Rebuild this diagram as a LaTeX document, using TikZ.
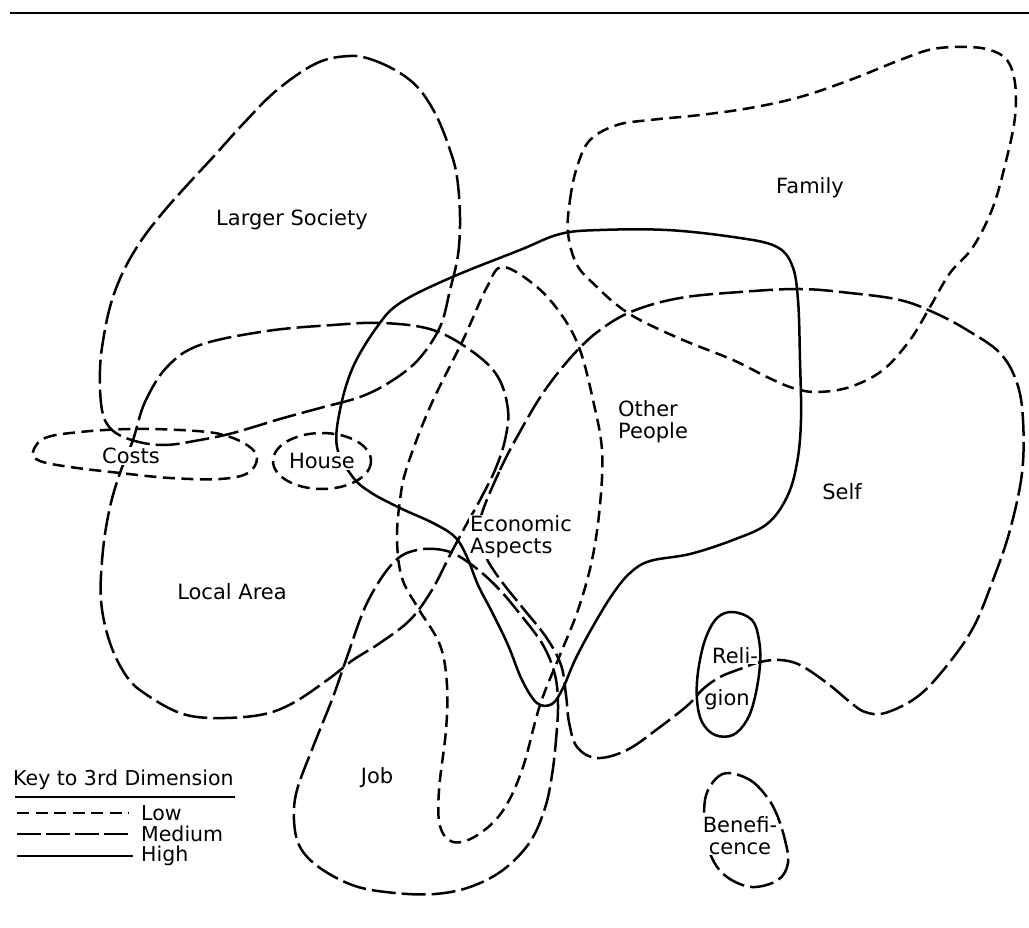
\documentclass[tikz,border=0pt]{standalone}
\usepackage{fontspec}
\setmainfont{DejaVu Sans}
\begin{document}
\begin{tikzpicture}[x=1pt,y=-1pt,
  low/.style={line width=2.5pt, dash pattern=on 12pt off 6.5pt},
  med/.style={line width=2.5pt, dash pattern=on 24pt off 6pt},
  high/.style={line width=2.5pt},
  lbl/.style={font=\fontsize{21}{22}\selectfont, fill=white, inner sep=1pt},
  plain/.style={font=\fontsize{20.5}{22}\selectfont, inner sep=1pt}]
\useasboundingbox (0,0) rectangle (1029,928);
% top rule
\draw[line width=2.2pt] (10,13) -- (1029,13);

% Larger Society (medium)
\draw[med] plot[smooth cycle, tension=0.6] coordinates {
 (350,56) (373,60) (400,73) (420,90) (437,117) (450,150) (457,177) (460,217)
 (458,255) (450,290) (440,327) (418,360) (390,382) (360,397) (320,408) (280,419)
 (233,433) (200,440) (165,445) (135,441) (112,430) (102,410) (100,370) (104,335)
 (112,300) (125,268) (143,238) (165,210) (190,182) (215,155) (243,124)
 (277,90) (317,63)};

% Family (low)
\draw[low] plot[smooth cycle, tension=0.6] coordinates {
 (568,233) (570,200) (577,167) (590,140) (617,125) (650,120) (700,115) (750,108)
 (800,97) (850,80) (900,60) (933,49) (967,47) (990,50) (1007,60) (1015,83)
 (1015,117) (1007,157) (993,207) (973,247) (950,273) (930,307) (910,340)
 (883,370) (850,387) (817,392) (793,388) (767,377) (733,360) (683,340)
 (640,320) (617,305) (597,287) (577,265)};

% Costs (low)
\draw[low] plot[smooth cycle, tension=0.6] coordinates {
 (33,452) (45,438) (80,432) (130,429) (180,430) (220,434) (247,445) (257,458)
 (248,473) (220,479) (170,478) (120,473) (70,467) (40,461)};

% House (low)
\draw[low] (322,461) ellipse [x radius=49, y radius=28];

% Local Area (medium)
\draw[med] plot[smooth cycle, tension=0.6] coordinates {
 (133,440) (145,402) (167,367) (200,345) (267,331) (333,325) (383,323) (433,330)
 (473,352) (498,377) (508,410) (505,440) (495,470) (480,500) (465,527)
 (450,555) (432,590) (410,620) (380,643) (353,660) (330,678) (293,703)
 (260,715) (213,718) (180,713) (147,695) (127,677) (110,643) (101,600)
 (103,550) (110,507) (120,473)};

% thin low-dashed blob
\draw[low] plot[smooth cycle, tension=0.6] coordinates {
 (503,267) (537,287) (563,317) (580,350) (593,400) (602,450) (600,505)
 (592,560) (578,610) (560,655) (540,705) (522,770) (502,812) (476,836)
 (453,842) (440,826) (439,790) (446,730) (447,685) (440,645) (418,608)
 (402,578) (397,540) (400,500) (407,467) (430,407) (463,340) (487,287)};

% Job (medium)
\draw[med] plot[smooth cycle, tension=0.6] coordinates {
 (472,565) (447,551) (417,550) (393,563) (367,603) (347,657) (333,697)
 (313,747) (297,790) (294,820) (300,847) (320,868) (355,886) (395,893)
 (435,894) (470,887) (503,870) (530,842) (545,808) (552,775) (556,740)
 (558,705) (555,675) (543,645) (520,614) (497,587)};

% Self (medium)
\draw[med] plot[smooth cycle, tension=0.6] coordinates {
 (483,510) (500,470) (517,437) (543,393) (573,355) (600,330) (633,311)
 (680,298) (740,292) (800,289) (850,293) (900,300) (935,313) (967,330)
 (1000,353) (1017,383) (1023,420) (1022,473) (1010,530) (993,580) (973,628)
 (945,668) (917,697) (885,713) (865,712) (850,702) (827,683) (800,665)
 (780,660) (760,662) (740,669) (720,677) (703,689) (688,705) (660,727)
 (627,750) (597,758) (577,747) (569,722) (566,695) (561,665) (546,637)
 (522,607) (499,578) (485,555) (479,532)};

% Other People (high)
\draw[high] plot[smooth cycle, tension=0.6] coordinates {
 (352,476) (370,492) (400,508) (433,523) (455,537) (467,557) (478,585)
 (492,612) (508,645) (522,680) (537,703) (552,704) (563,688) (575,660)
 (592,628) (612,595) (630,573) (650,561) (690,554) (733,540) (767,524)
 (787,497) (797,463) (801,420) (800,360) (798,300) (792,265) (775,246)
 (733,237) (667,230) (600,230) (560,234) (520,250) (450,278) (400,303)
 (377,327) (353,367) (340,410) (337,447)};

% Religion (high)
\draw[high] plot[smooth cycle, tension=0.6] coordinates {
 (733,612) (752,620) (759,640) (760,665) (755,697) (747,720) (733,735)
 (715,735) (702,722) (697,700) (698,672) (705,640) (717,618)};

% Beneficence (medium)
\draw[med] plot[smooth cycle, tension=0.6] coordinates {
 (727,773) (750,780) (767,797) (777,815) (785,840) (788,863) (778,880)
 (752,887) (727,877) (712,858) (705,830) (705,800) (713,782)};

% labels
\node[lbl] (tLS) at (292,220) {Larger Society};
\node[lbl] (tFam) at (810,188) {Family};
\node[lbl] (tCosts) at (131,456) {Costs};
\node[lbl] (tHouse) at (322,461) {House};
\node[lbl, anchor=west, align=left] (tOP) at (617,422) {Other\\People};
\node[lbl, anchor=west, align=left] (tEA) at (469,537) {Economic\\Aspects};
\node[lbl] (tSelf) at (842,492) {Self};
\node[lbl] (tLA) at (232,592) {Local Area};
\node[lbl] (tJob) at (377,778) {Job};
\node[lbl, inner sep=0.3pt] (tRel1) at (735,656) {Reli-};
\node[lbl, inner sep=0.3pt] (tRel2) at (727,700) {gion};
\node[lbl, align=center, inner sep=0.3pt] (tBen) at (740,836) {Benefi-\\cence};

% key
\node[plain, anchor=west] (tKey) at (12,780) {Key to 3rd Dimension};
\coordinate (kul1) at (15,797);
\coordinate (kul2) at (235,797);
\draw[line width=2.2pt] (kul1) -- (kul2);
\coordinate (kl1) at (17,813);
\coordinate (kl2) at (129,813);
\coordinate (km1) at (17,834);
\coordinate (km2) at (131,834);
\coordinate (kh1) at (17,856);
\coordinate (kh2) at (133,856);
\draw[low] (kl1) -- (kl2);
\draw[line width=2.5pt, dash pattern=on 24pt off 5pt] (km1) -- (km2);
\draw[high] (kh1) -- (kh2);
\node[plain, anchor=west] (tLow) at (140,813) {Low};
\node[plain, anchor=west] (tMed) at (140,834) {Medium};
\node[plain, anchor=west] (tHigh) at (140,856) {High};
\end{tikzpicture}
\end{document}
